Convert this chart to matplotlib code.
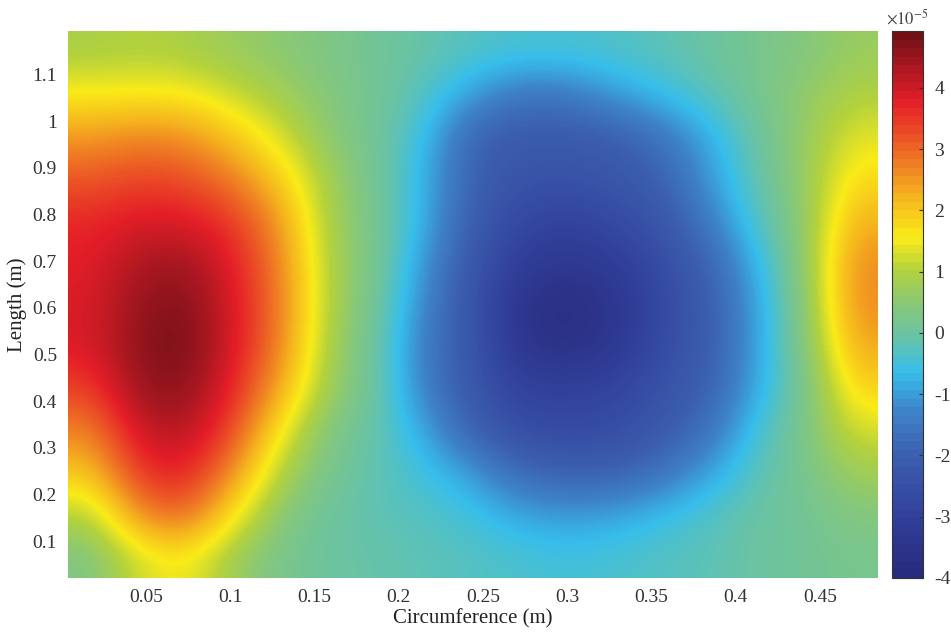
import matplotlib
matplotlib.use("Agg")
import matplotlib.pyplot as plt
import numpy as np
from matplotlib.colors import LinearSegmentedColormap, Normalize
from matplotlib.cm import ScalarMappable

# grid cell centres (m)
circ = [0.018, 0.047, 0.075, 0.103, 0.131, 0.160, 0.188, 0.216, 0.244,
        0.273, 0.301, 0.329, 0.357, 0.386, 0.414, 0.442, 0.470]
length = [0.066, 0.156, 0.246, 0.336, 0.427, 0.517, 0.607, 0.697, 0.788,
          0.878, 0.968, 1.058, 1.148]

# field values in units of 1e-5, one row per length position (bottom -> top)
row_00 = [0.3, 1.3, 1.6, 0.7, 0.2, 0.0, -0.1, -0.2, -0.3, -0.4, -0.5, -0.4, -0.3, -0.2, 0.0, 0.1, 0.2]
row_01 = [1.0, 2.7, 3.1, 1.6, 0.4, 0.0, -0.2, -0.3, -0.5, -0.9, -1.0, -0.9, -0.6, -0.3, 0.0, 0.1, 0.4]
row_02 = [2.0, 3.6, 3.8, 2.6, 0.9, 0.2, -0.2, -0.5, -1.0, -1.8, -2.0, -2.0, -1.6, -0.9, -0.2, 0.2, 0.8]
row_03 = [2.7, 4.1, 4.3, 3.3, 1.5, 0.3, -0.1, -0.9, -2.0, -2.6, -2.7, -2.6, -2.2, -1.6, -0.4, 0.3, 1.3]
row_04 = [3.4, 4.6, 4.7, 3.7, 2.3, 0.7, 0.0, -1.4, -2.3, -3.0, -3.0, -2.9, -2.4, -2.0, -0.8, 0.2, 1.9]
row_05 = [3.9, 4.7, 4.9, 3.9, 2.7, 0.8, 0.0, -1.5, -2.3, -3.5, -3.7, -3.4, -2.6, -2.1, -0.9, 0.4, 2.4]
row_06 = [3.9, 4.6, 4.8, 3.9, 2.8, 0.9, 0.1, -1.3, -2.4, -3.6, -3.8, -3.5, -2.7, -2.1, -0.9, 0.5, 2.7]
row_07 = [3.8, 4.4, 4.5, 3.8, 2.7, 0.9, 0.2, -1.1, -2.3, -3.2, -3.4, -3.2, -2.6, -1.9, -0.7, 0.6, 2.7]
row_08 = [3.7, 3.9, 3.9, 3.5, 2.5, 0.8, 0.2, -0.8, -2.1, -2.8, -3.0, -2.7, -2.3, -1.4, -0.3, 0.6, 2.3]
row_09 = [3.2, 3.4, 3.3, 2.8, 1.9, 0.8, 0.1, -0.8, -2.0, -2.4, -2.4, -2.3, -2.0, -1.0, -0.1, 0.7, 1.8]
row_10 = [2.5, 2.7, 2.6, 2.0, 1.3, 0.5, 0.1, -0.6, -2.0, -2.2, -2.2, -2.1, -1.6, -0.8, 0.0, 0.7, 1.4]
row_11 = [1.6, 1.6, 1.6, 1.2, 0.8, 0.4, 0.1, -0.3, -1.0, -1.6, -1.5, -1.0, -0.6, -0.2, 0.2, 0.6, 1.0]
row_12 = [0.9, 1.0, 0.9, 0.7, 0.5, 0.3, 0.1, -0.1, -0.3, -0.4, -0.4, -0.35, -0.2, 0.0, 0.2, 0.4, 0.7]

xticks = [0.05, 0.1, 0.15, 0.2, 0.25, 0.3, 0.35, 0.4, 0.45]
xtick_labels = ["0.05", "0.1", "0.15", "0.2", "0.25", "0.3", "0.35", "0.4", "0.45"]
yticks = [0.1, 0.2, 0.3, 0.4, 0.5, 0.6, 0.7, 0.8, 0.9, 1.0, 1.1]
ytick_labels = ["0.1", "0.2", "0.3", "0.4", "0.5", "0.6", "0.7", "0.8", "0.9", "1", "1.1"]
cbar_ticks = [-4, -3, -2, -1, 0, 1, 2, 3, 4]

field = np.array([row_00, row_01, row_02, row_03, row_04, row_05, row_06,
                  row_07, row_08, row_09, row_10, row_11, row_12])

# jet-like map, slightly muted as in print
anchors = [
    (0.000, (40, 42, 125)),
    (0.110, (50, 65, 155)),
    (0.220, (60, 95, 175)),
    (0.300, (62, 130, 200)),
    (0.375, (55, 190, 235)),
    (0.440, (105, 195, 165)),
    (0.500, (135, 200, 120)),
    (0.565, (180, 210, 60)),
    (0.625, (250, 235, 25)),
    (0.700, (245, 180, 30)),
    (0.750, (240, 135, 35)),
    (0.820, (235, 75, 38)),
    (0.875, (228, 30, 40)),
    (0.940, (170, 24, 33)),
    (1.000, (115, 16, 22)),
]
stops = [(p, tuple(c / 255 for c in rgb)) for p, rgb in anchors]
cmap = LinearSegmentedColormap.from_list("printjet", stops, N=256)
cmap_steps = LinearSegmentedColormap.from_list("printjet64", stops, N=64)
norm = Normalize(vmin=-4.0, vmax=4.93)

plt.rcParams["font.family"] = ["Liberation Serif", "DejaVu Serif"]
plt.rcParams["mathtext.fontset"] = "stix"

fig = plt.figure(figsize=(9.51, 6.42), dpi=100)
ax = fig.add_axes([0.0715, 0.0997, 0.8515, 0.852])
cax = fig.add_axes([0.938, 0.0997, 0.0326, 0.852])

dx = circ[1] - circ[0]
dy = length[1] - length[0]
extent = [circ[0] - dx / 2, circ[-1] + dx / 2, length[0] - dy / 2, length[-1] + dy / 2]

ax.imshow(field, origin="lower", extent=extent, aspect="auto",
          interpolation="bicubic", cmap=cmap, norm=norm)
ax.set_xlim(extent[0], extent[1])
ax.set_ylim(extent[2], extent[3])

ax.set_xticks(xticks)
ax.set_xticklabels(xtick_labels)
ax.set_yticks(yticks)
ax.set_yticklabels(ytick_labels)
ax.tick_params(length=0, labelsize=14, pad=8, colors="#333333")
for s in ax.spines.values():
    s.set_visible(False)

ax.set_xlabel("Circumference (m)", fontsize=15, labelpad=2, color="#222222")
ax.set_ylabel("Length (m)", fontsize=15, labelpad=4, color="#222222")

# colorbar drawn with 64 discrete steps
cb = fig.colorbar(ScalarMappable(norm=norm, cmap=cmap_steps), cax=cax, ticks=cbar_ticks)
cb.ax.tick_params(labelsize=14, direction="in", length=3, width=0.8,
                  colors="#333333", pad=8)
cb.ax.set_yticklabels([str(t) for t in cbar_ticks])
cb.outline.set_linewidth(0.8)
cb.outline.set_edgecolor("#333333")
cax.text(0.5, 1.005, r"$\times10^{-5}$", transform=cax.transAxes,
         ha="center", va="bottom", fontsize=12, color="#444444")

fig.savefig("out.png", dpi=100)
